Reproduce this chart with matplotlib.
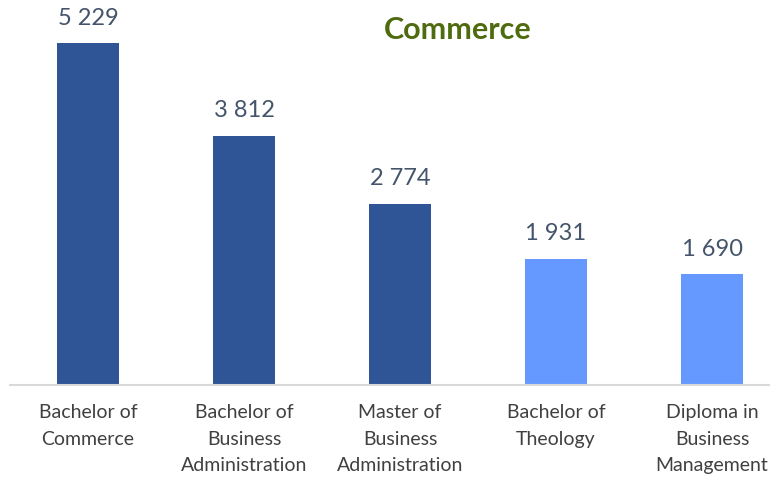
import matplotlib.pyplot as plt

categories = ["Bachelor of\nCommerce", "Bachelor of\nBusiness\nAdministration",
              "Master of\nBusiness\nAdministration", "Bachelor of\nTheology",
              "Diploma in\nBusiness\nManagement"]
values = [5229, 3812, 2774, 1931, 1690]
labels = ["5 229", "3 812", "2 774", "1 931", "1 690"]

DARK = "#2F5597"
LIGHT = "#6699FF"
colors = [DARK, DARK, DARK, LIGHT, LIGHT]

plt.rcParams['font.family'] = ['Lato', 'DejaVu Sans']

fig = plt.figure(figsize=(7.7, 4.78), dpi=100)
ax = fig.add_axes([10 / 770, 93 / 478, 760 / 770, 385 / 478])

x = list(range(len(values)))
ax.bar(x, values, width=0.4, color=colors)
for xi, v, lab in zip(x, values, labels):
    ax.annotate(lab, (xi, v), xytext=(0, 18), textcoords='offset points',
                ha='center', va='center', fontsize=17, color='#44546A',
                annotation_clip=False)

ax.set_xlim(-0.5, -0.5 + 760 / 156)
ax.set_ylim(0, 5887)
ax.set_yticks([])
ax.set_xticks(x)
ax.set_xticklabels(categories, fontsize=14, color='#404040', linespacing=1.65, va='top')
ax.tick_params(axis='x', length=0, pad=14)
for s in ['top', 'right', 'left']:
    ax.spines[s].set_visible(False)
ax.spines['bottom'].set_color('#D9D9D9')
ax.spines['bottom'].set_linewidth(1.5)

fig.text(458 / 770, 1 - 30 / 478, "Commerce", ha='center', va='center',
         fontsize=22, fontweight='bold', color='#4F6B0F')

fig.savefig("out.png", dpi=100)
